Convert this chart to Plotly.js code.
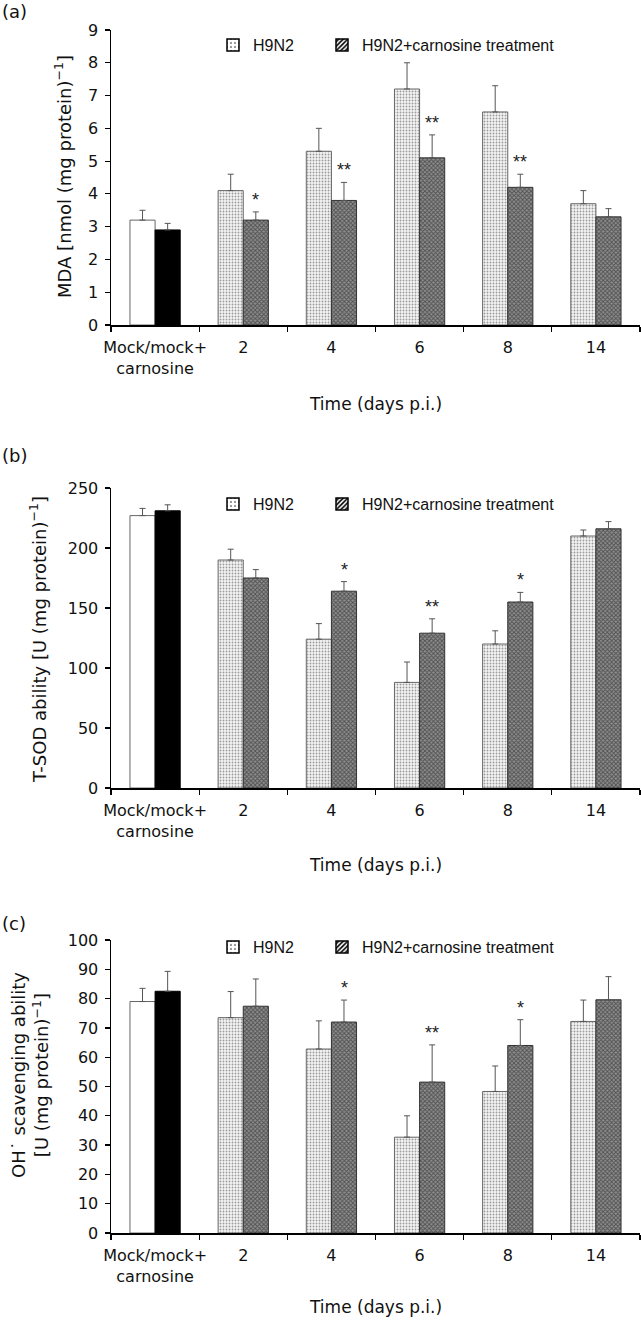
<!DOCTYPE html>
<html>
<head>
<meta charset="utf-8">
<script src="https://cdn.plot.ly/plotly-3.0.1.min.js"></script>
<style>
  html, body { margin: 0; padding: 0; background: #ffffff; }
  #chart { width: 641px; height: 1320px; }
  /* legend swatches come from legend-only entries; keep them fully opaque */
  .infolayer .traces { opacity: 1 !important; }
</style>
</head>
<body>
<div id="chart"></div>
<script>
// ---------- data ----------
const categories = ["Mock/mock+<br>carnosine", "2", "4", "6", "8", "14"];
const seriesNames = ["H9N2", "H9N2+carnosine treatment"];

// (a) MDA
const mdaControl = [3.2, 2.9];
const mdaControlErr = [0.3, 0.2];
const mdaH9N2 = [4.1, 5.3, 7.2, 6.5, 3.7];
const mdaH9N2Err = [0.5, 0.7, 0.8, 0.8, 0.4];
const mdaCarnosine = [3.2, 3.8, 5.1, 4.2, 3.3];
const mdaCarnosineErr = [0.25, 0.55, 0.7, 0.4, 0.25];
const mdaSignificance = ["*", "**", "**", "**", ""];

// (b) T-SOD
const sodControl = [227, 231];
const sodControlErr = [6, 5];
const sodH9N2 = [190, 124, 88, 120, 210];
const sodH9N2Err = [9, 13, 17, 11, 5];
const sodCarnosine = [175, 164, 129, 155, 216];
const sodCarnosineErr = [7, 8, 12, 8, 6];
const sodSignificance = ["", "*", "**", "*", ""];

// (c) OH scavenging
const ohControl = [79, 82.5];
const ohControlErr = [4.5, 6.8];
const ohH9N2 = [73.5, 62.8, 32.7, 48.3, 72.2];
const ohH9N2Err = [8.9, 9.6, 7.3, 8.7, 7.3];
const ohCarnosine = [77.4, 72.0, 51.5, 64.0, 79.6];
const ohCarnosineErr = [9.3, 7.5, 12.7, 8.8, 7.9];
const ohSignificance = ["", "*", "**", "*", ""];

// ---------- styling ----------
const W = 641, H = 1320;
const TICK_FONT = {family: "DejaVu Sans", size: 16, color: "#111"};
const TITLE_FONT = {family: "DejaVu Sans", size: 17, color: "#111"};
const YTITLE_FONT = {family: "DejaVu Sans", size: 18, color: "#111"};
const LEGEND_FONT = {family: "Liberation Sans, Arial", size: 16, color: "#111"};
const STAR_FONT = {family: "Liberation Sans, Arial", size: 18, color: "#222"};

function upErr(arr) {
  return {type: "data", symmetric: false, array: arr, arrayminus: arr.map(() => 0),
          color: "#555", thickness: 1, width: 3};
}
const h9Marker = {color: "#f3f3f3", line: {color: "#666", width: 1},
  pattern: {shape: ".", fgcolor: "#9a9a9a", bgcolor: "#f5f5f5", size: 3, solidity: 0.3}};
const carnMarker = {color: "#7c7c7c", line: {color: "#333", width: 1},
  pattern: {shape: "x", fgcolor: "#505050", bgcolor: "#8e8e8e", size: 3, solidity: 0.5}};
const h9LegendMarker = {color: "#ffffff", line: {color: "#000", width: 1.5},
  pattern: {shape: ".", fgcolor: "#333", bgcolor: "#ffffff", size: 5, solidity: 0.15}};
const carnLegendMarker = {color: "#ffffff", line: {color: "#000", width: 1.5},
  pattern: {shape: "/", fgcolor: "#000", bgcolor: "#ffffff", size: 4, solidity: 0.5}};

const panels = [
  {control: mdaControl, controlErr: mdaControlErr, h9: mdaH9N2, h9Err: mdaH9N2Err,
   carn: mdaCarnosine, carnErr: mdaCarnosineErr, sig: mdaSignificance,
   top: 30, bottom: 325, range: [0, 9], dtick: 1,
   ytitle: "MDA [nmol (mg protein)<sup>−1</sup>]", ytitleX: 63, ytitleY: 177,
   label: "(a)", labelY: 12, xtitleY: 404, legendY: 45},
  {control: sodControl, controlErr: sodControlErr, h9: sodH9N2, h9Err: sodH9N2Err,
   carn: sodCarnosine, carnErr: sodCarnosineErr, sig: sodSignificance,
   top: 488, bottom: 788, range: [0, 250], dtick: 50,
   ytitle: "T-SOD ability [U (mg protein)<sup>−1</sup>]", ytitleX: 38, ytitleY: 640,
   label: "(b)", labelY: 455, xtitleY: 865, legendY: 504},
  {control: ohControl, controlErr: ohControlErr, h9: ohH9N2, h9Err: ohH9N2Err,
   carn: ohCarnosine, carnErr: ohCarnosineErr, sig: ohSignificance,
   top: 940, bottom: 1233, range: [0, 100], dtick: 10,
   ytitle: "OH˙ scavenging ability<br>[U (mg protein)<sup>−1</sup>]", ytitleX: 30, ytitleY: 1075,
   label: "(c)", labelY: 924, xtitleY: 1307, legendY: 947}
];

const AXIS_LEFT = 111, AXIS_RIGHT = 640;
const LEGEND_X = [213, 322];
const traces = [];
const annotations = [];
const layout = {
  width: W, height: H,
  margin: {l: 0, r: 0, t: 0, b: 0, pad: 0},
  paper_bgcolor: "#ffffff", plot_bgcolor: "#ffffff",
  barmode: "group", bargap: 0.43, bargroupgap: 0,
  showlegend: true,
  annotations: annotations
};

panels.forEach((p, pi) => {
  const k = pi === 0 ? "" : String(pi + 1);
  const xa = "x" + k, ya = "y" + k;
  const lgA = pi * 2 === 0 ? "legend" : "legend" + (pi * 2 + 1);
  const lgB = "legend" + (pi * 2 + 2);
  const days = categories.slice(1);
  traces.push({type: "bar", x: [categories[0]], y: [p.control[0]], error_y: upErr([p.controlErr[0]]),
    marker: {color: "#ffffff", line: {color: "#666", width: 1}}, offsetgroup: "1",
    showlegend: false, xaxis: xa, yaxis: ya, name: "Mock"});
  traces.push({type: "bar", x: [categories[0]], y: [p.control[1]], error_y: upErr([p.controlErr[1]]),
    marker: {color: "#000000", line: {color: "#000", width: 1}}, offsetgroup: "2",
    showlegend: false, xaxis: xa, yaxis: ya, name: "Mock+carnosine"});
  traces.push({type: "bar", x: days, y: p.h9, error_y: upErr(p.h9Err), marker: h9Marker,
    offsetgroup: "1", showlegend: false, xaxis: xa, yaxis: ya, name: seriesNames[0]});
  traces.push({type: "bar", x: days, y: p.carn, error_y: upErr(p.carnErr), marker: carnMarker,
    offsetgroup: "2", showlegend: false, xaxis: xa, yaxis: ya, name: seriesNames[1]});
  // legend-only entries (legend swatches styled like the reference key)
  traces.push({type: "bar", x: days, y: p.h9, visible: "legendonly", marker: h9LegendMarker,
    offsetgroup: "1", showlegend: true, legend: lgA, xaxis: xa, yaxis: ya, name: seriesNames[0]});
  traces.push({type: "bar", x: days, y: p.carn, visible: "legendonly", marker: carnLegendMarker,
    offsetgroup: "2", showlegend: true, legend: lgB, xaxis: xa, yaxis: ya, name: seriesNames[1]});

  layout["xaxis" + k] = {
    domain: [AXIS_LEFT / W, AXIS_RIGHT / W], anchor: ya, type: "category",
    categoryorder: "array", categoryarray: categories, range: [-0.5, 5.5],
    tickson: "boundaries", ticks: "outside", ticklen: 5, tickwidth: 1.2, tickcolor: "#000",
    showline: true, linecolor: "#000", linewidth: 1.5, showgrid: false, zeroline: false,
    tickfont: TICK_FONT, tickangle: 0, ticklabelstandoff: 7, fixedrange: true
  };
  layout["yaxis" + k] = {
    domain: [1 - p.bottom / H, 1 - p.top / H], anchor: xa, range: p.range, dtick: p.dtick,
    ticks: "outside", ticklen: 5, tickwidth: 1.2, tickcolor: "#000",
    showline: true, linecolor: "#000", linewidth: 1.5, showgrid: false, zeroline: false,
    tickfont: TICK_FONT, ticklabelstandoff: 3, fixedrange: true
  };
  [lgA, lgB].forEach((lg, j) => {
    layout[lg] = {
      orientation: "h", x: LEGEND_X[j] / W, xanchor: "left", y: 1 - p.legendY / H, yanchor: "middle",
      font: LEGEND_FONT, bgcolor: "rgba(0,0,0,0)", borderwidth: 0,
      itemclick: false, itemdoubleclick: false
    };
  });

  // significance stars above carnosine bars (x = category position index)
  p.sig.forEach((s, i) => {
    if (!s) return;
    annotations.push({xref: xa, yref: ya, x: categories.indexOf(days[i]), y: p.carn[i] + p.carnErr[i],
      xshift: 12.6, yshift: 0, yanchor: "bottom", xanchor: "center", showarrow: false,
      text: s, font: STAR_FONT});
  });
  // y title
  annotations.push({xref: "paper", yref: "paper", x: p.ytitleX / W, y: 1 - p.ytitleY / H,
    xanchor: "center", yanchor: "middle", textangle: -90, showarrow: false,
    text: p.ytitle, font: YTITLE_FONT});
  // x title
  annotations.push({xref: "paper", yref: "paper", x: ((AXIS_LEFT + AXIS_RIGHT) / 2) / W,
    y: 1 - p.xtitleY / H, xanchor: "center", yanchor: "middle", showarrow: false,
    text: "Time (days p.i.)", font: TITLE_FONT});
  // panel label
  annotations.push({xref: "paper", yref: "paper", x: 0, y: 1 - p.labelY / H,
    xanchor: "left", yanchor: "middle", showarrow: false,
    text: p.label, font: {family: "DejaVu Sans", size: 18, color: "#111"}});
});

Plotly.newPlot("chart", traces, layout, {displayModeBar: false, staticPlot: true});
</script>
</body>
</html>
